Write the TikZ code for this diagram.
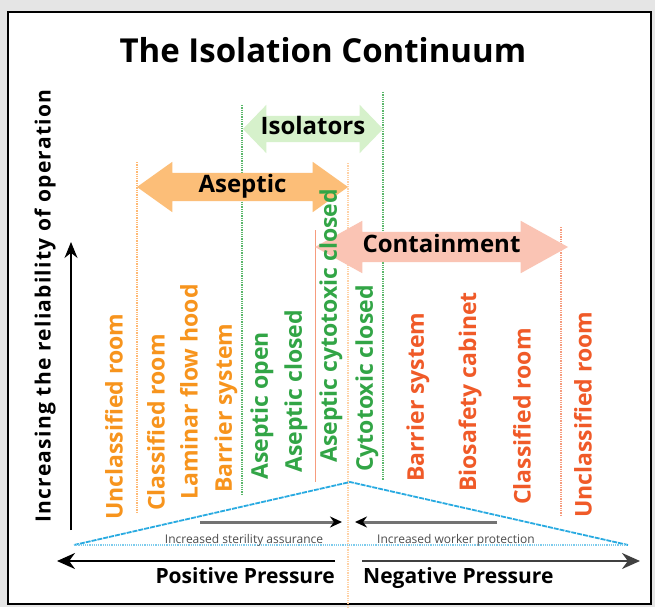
\documentclass[tikz,border=0pt]{standalone}
\usepackage{fontspec}
\setmainfont{Open Sans}
\usetikzlibrary{arrows.meta,shapes.arrows}

\definecolor{posorange}{RGB}{247,148,29}
\definecolor{negred}{RGB}{240,90,40}
\definecolor{isogreen}{RGB}{50,165,70}
\definecolor{isofill}{RGB}{214,241,203}
\definecolor{asepfill}{RGB}{252,190,120}
\definecolor{contfill}{RGB}{250,196,180}
\definecolor{skyblue}{RGB}{40,170,225}

\begin{document}
\begin{tikzpicture}[x=1pt, y=-1pt,
  band/.style={double arrow, inner xsep=0pt, inner ysep=0pt,
               text height=19pt, text depth=9pt,
               double arrow head extend=11pt,
               font=\fontsize{24}{26}\selectfont\bfseries},
  roomtext/.style={rotate=90, anchor=west, inner sep=0pt,
                   font=\fontsize{23}{24}\selectfont\bfseries},
  postext/.style={roomtext, text=posorange},
  isotext/.style={roomtext, text=isogreen},
  negtext/.style={roomtext, text=negred},
  divider/.style={densely dotted, line width=1.3pt},
  push/.style={-{Stealth[length=12pt, width=11pt, black]}, line width=3pt, black!55},
  press/.style={-{Stealth[length=18pt, width=16pt]}, line width=2pt},
  presstext/.style={font=\fontsize{21}{24}\selectfont\bfseries, inner sep=0pt},
  tinytext/.style={font=\rmfamily\fontsize{12}{12}\selectfont, text=black!70, inner sep=0pt}
]
  \useasboundingbox (0,0) rectangle (655,607);
  \fill[gray!20] (0,0) rectangle (655,607);
  \draw[line width=1.5pt, fill=white] (8,12) rectangle (651,604);

  \node[font=\fontsize{33}{40}\selectfont\bfseries, inner sep=0pt, anchor=base]
    (title) at (323,63) {The Isolation Continuum};

  % dividers between the zones
  \coordinate (d1a) at (137,162);  \coordinate (d1b) at (137,512);
  \coordinate (d2a) at (242,105);  \coordinate (d2b) at (242,495);
  \coordinate (d3a) at (315,230);  \coordinate (d3b) at (315,482);
  \coordinate (d4a) at (348,163);  \coordinate (d4b) at (348,607);
  \coordinate (d5a) at (383,92);   \coordinate (d5b) at (383,480);
  \coordinate (d6a) at (561,227);  \coordinate (d6b) at (561,516);
  \draw[divider, orange!55] (d1a) -- (d1b);
  \draw[divider, isogreen!80] (d2a) -- (d2b);
  \draw[line width=1pt, negred!60] (d3a) -- (d3b);
  \draw[divider, orange!35] (d4a) -- (d4b);
  \draw[divider, isogreen!80] (d5a) -- (d5b);
  \draw[divider, negred!60] (d6a) -- (d6b);

  % the three bands
  \node[band, fill=isofill, minimum height=140pt, text height=18pt, text depth=8pt,
        double arrow tip angle=92] (isol) at (313,129) {Isolators};
  \node[band, fill=asepfill, minimum height=211pt,
        double arrow tip angle=71] (asep) at (242.5,187) {Aseptic};
  \node[band, fill=contfill, minimum height=253pt, text height=20pt, text depth=10pt,
        double arrow tip angle=58] (cont) at (441.5,247) {Containment};

  % reliability axis
  \node[rotate=90, inner sep=0pt,
        font=\fontsize{21}{24}\selectfont\bfseries\addfontfeature{LetterSpace=6}]
    (reliab) at (45,306) {Increasing the reliability of operation};
  \coordinate (ybase) at (71,530);
  \coordinate (ytip) at (71,242);
  \draw[-{Stealth[length=16pt, width=13pt]}, line width=1.5pt] (ybase) -- (ytip);

  % positive pressure side
  \node[postext] (uncl) at (114,520) {Unclassified room};
  \node[postext] (clas) at (156,511) {Classified room};
  \node[postext] (lamf) at (189,500) {Laminar flow hood};
  \node[postext] (barl) at (226,493) {Barrier system};
  \node[isotext] (asop) at (262,480) {Aseptic open};
  \node[isotext] (ascl) at (296,473) {Aseptic closed};
  \node[isotext] (ascc) at (331,463) {Aseptic cytotoxic closed};
  \node[isotext] (cycl) at (367,472) {Cytotoxic closed};
  % negative pressure side
  \node[negtext] (barr) at (418,482) {Barrier system};
  \node[negtext] (bios) at (470,492) {Biosafety cabinet};
  \node[negtext] (clar) at (522,505) {Classified room};
  \node[negtext] (uncr) at (583,518) {Unclassified room};

  % the pressure triangle
  \coordinate (lcorner) at (74,545);
  \coordinate (apex) at (350,482);
  \coordinate (rcorner) at (628,545);
  \draw[skyblue, line width=1.8pt, dash pattern=on 5pt off 1pt] (lcorner) -- (apex) -- (rcorner);
  \draw[skyblue!60, line width=1.2pt, densely dotted] (lcorner) -- (rcorner);

  \coordinate (sterA) at (200,522);  \coordinate (sterB) at (342,522);
  \coordinate (workA) at (497,522);  \coordinate (workB) at (355,522);
  \draw[push] (sterA) -- (sterB);
  \draw[push] (workA) -- (workB);
  \node[tinytext] (ster) at (244,540) {Increased sterility assurance};
  \node[tinytext] (work) at (456,540) {Increased worker protection};

  \coordinate (posA) at (335,561);  \coordinate (posB) at (57,561);
  \coordinate (negA) at (362,561);  \coordinate (negB) at (640,561);
  \draw[press, black] (posA) -- (posB);
  \draw[press, black!75] (negA) -- (negB);
  \node[presstext, anchor=base east] (pos) at (335,583) {Positive Pressure};
  \node[presstext, anchor=base west] (neg) at (363,583) {Negative Pressure};
\end{tikzpicture}
\end{document}
